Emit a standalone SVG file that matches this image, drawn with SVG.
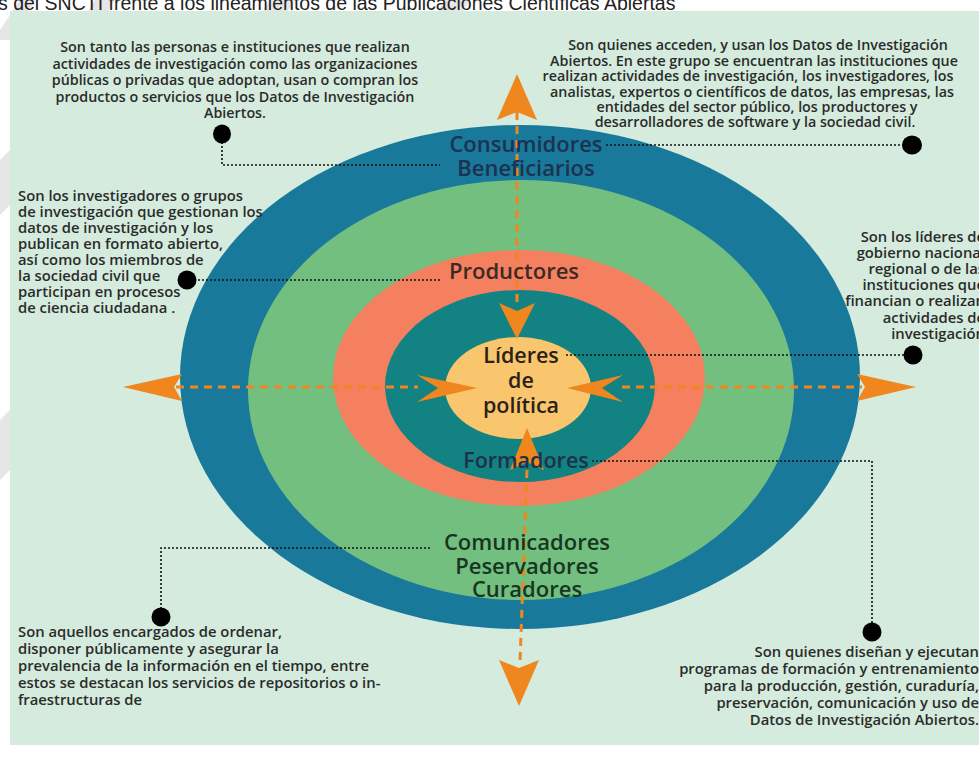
<svg xmlns="http://www.w3.org/2000/svg" width="979" height="771" viewBox="0 0 979 771">
<defs>
<style>
.ann{font-family:"Open Sans","DejaVu Sans",sans-serif;font-weight:600;font-size:14.3px;fill:#2b2b2b}
.annb{font-size:14.8px}
.lbl{font-family:"Open Sans","DejaVu Sans",sans-serif;font-weight:600;text-anchor:middle}
.dot{stroke:#111;stroke-width:1.6;stroke-dasharray:2 2;fill:none}
.dash{stroke:#f0861e;stroke-width:3;stroke-dasharray:8 6;fill:none}
.ah{fill:#f0861e}
.pin{fill:#000}
</style>
</defs>
<rect x="0" y="0" width="979" height="771" fill="#ffffff"/>
<g id="watermark" fill="#e6e6e6">
<polygon points="20,0 35,0 10,40 0,40 0,30"/>
<polygon points="95,0 115,0 108,11 88,11"/>
<polygon points="270,0 295,0 288,11 263,11"/>
<polygon points="445,0 470,0 463,11 438,11"/>
<polygon points="0,160 10,150 10,205 0,215"/>
<polygon points="0,420 10,410 10,470 0,480"/>
</g>
<text x="-2" y="9.5" font-family="Liberation Sans, Arial, sans-serif" font-size="19.5" fill="#222">s del SNCTI frente a los lineamientos de las Publicaciones Científicas Abiertas</text>
<rect id="panel" x="10" y="11" width="969" height="734" fill="#d4ebdd"/>

<g id="rings">
<ellipse id="ring-consumidores" cx="520" cy="377" rx="340" ry="252" fill="#18799b"/>
<ellipse id="ring-comunicadores" cx="521" cy="390" rx="273" ry="210" fill="#72bf80"/>
<ellipse id="ring-productores" cx="519" cy="378" rx="186" ry="128" fill="#f5805f"/>
<ellipse id="ring-formadores" cx="520" cy="386" rx="135" ry="96" fill="#138282"/>
<ellipse id="ring-lideres" cx="518" cy="388" rx="73" ry="51" fill="#f9c56d"/>
</g>

<g id="connectors">
<line class="dash" x1="517" y1="112" x2="517" y2="305"/>
<line class="dash" x1="527" y1="470" x2="520" y2="662"/>
<line class="dash" x1="176" y1="387" x2="418" y2="387"/>
<line class="dash" x1="622" y1="387" x2="862" y2="387"/>
<polygon class="ah" points="517,74 537,120 517,112 497,120"/>
<polygon class="ah" points="519,706 539,660 519,668 499,660"/>
<polygon class="ah" points="123,387 182,374 174,387 182,401"/>
<polygon class="ah" points="916,387 857,374 865,387 857,401"/>
<polygon class="ah" points="517,339 535,303 517,311 499,303"/>
<polygon class="ah" points="527,428 544,470 527,462 510,470"/>
<polygon class="ah" points="477,388 417,375 438,388 417,402"/>
<polygon class="ah" points="567,388 623,375 602,388 623,402"/>
<polyline class="dot" points="222,142 222,165 440,165"/>
<line class="dot" x1="606" y1="145" x2="905" y2="145"/>
<line class="dot" x1="194" y1="280" x2="442" y2="280"/>
<line class="dot" x1="566" y1="355" x2="905" y2="355"/>
<polyline class="dot" points="430,548 161,548 161,609"/>
<polyline class="dot" points="592,461 872,461 872,623"/>
<ellipse class="pin" cx="222" cy="134" rx="9" ry="9.5"/>
<ellipse class="pin" cx="912" cy="145" rx="10" ry="9.5"/>
<ellipse class="pin" cx="187" cy="280" rx="9.5" ry="9.5"/>
<ellipse class="pin" cx="913" cy="355" rx="9.5" ry="9.5"/>
<ellipse class="pin" cx="161" cy="617" rx="9.5" ry="9.5"/>
<ellipse class="pin" cx="872" cy="632" rx="9.5" ry="9.5"/>
</g>

<g id="node-consumidores">
<text class="lbl" x="526" y="152" font-size="22" fill="#1d3150">Consumidores</text>
<text class="lbl" x="526" y="176" font-size="22" fill="#1d3150">Beneficiarios</text>
</g>
<g id="node-productores">
<text class="lbl" x="514" y="279" font-size="22" fill="#3a2a28">Productores</text>
</g>
<g id="node-lideres">
<text class="lbl" x="521" y="363" font-size="21.5" font-weight="700" fill="#2a2218">Líderes</text>
<text class="lbl" x="521" y="388" font-size="21.5" font-weight="700" fill="#2a2218">de</text>
<text class="lbl" x="521" y="413" font-size="21.5" font-weight="700" fill="#2a2218">política</text>
</g>
<g id="node-formadores">
<text class="lbl" x="526" y="468" font-size="21.5" fill="#1d3148">Formadores</text>
</g>
<g id="node-comunicadores">
<text class="lbl" x="527" y="550" font-size="22" fill="#173622">Comunicadores</text>
<text class="lbl" x="527" y="573.5" font-size="22" fill="#173622">Peservadores</text>
<text class="lbl" x="527" y="597" font-size="22" fill="#173622">Curadores</text>
</g>

<g id="note-consumidores-left" class="ann" text-anchor="middle">
<text x="235" y="52">Son tanto las personas e instituciones que realizan</text>
<text x="235" y="68.5">actividades de investigación como las organizaciones</text>
<text x="235" y="85">públicas o privadas que adoptan, usan o compran los</text>
<text x="235" y="101.5">productos o servicios que los Datos de Investigación</text>
<text x="235" y="118">Abiertos.</text>
</g>
<g id="note-consumidores-right" class="ann" text-anchor="middle">
<text x="758" y="50">Son quienes acceden, y usan los Datos de Investigación</text>
<text x="754" y="65.5">Abiertos. En este grupo se encuentran las instituciones que</text>
<text x="748" y="81">realizan actividades de investigación, los investigadores, los</text>
<text x="752" y="96.5">analistas, expertos o científicos de datos, las empresas, las</text>
<text x="757" y="111.5">entidades del sector público, los productores y</text>
<text x="755" y="127">desarrolladores de software y la sociedad civil.</text>
</g>
<g id="note-productores" class="ann annb">
<text x="18" y="201">Son los investigadores o grupos</text>
<text x="18" y="217">de investigación que gestionan los</text>
<text x="18" y="233">datos de investigación y los</text>
<text x="18" y="249">publican en formato abierto,</text>
<text x="18" y="265">así como los miembros de</text>
<text x="18" y="281">la sociedad civil que</text>
<text x="18" y="297">participan en procesos</text>
<text x="18" y="313">de ciencia ciudadana .</text>
</g>
<g id="note-lideres" class="ann annb" text-anchor="end">
<text x="985" y="242">Son los líderes de</text>
<text x="985" y="258">gobierno nacional</text>
<text x="985" y="274">regional o de las</text>
<text x="985" y="290">instituciones que</text>
<text x="985" y="306">financian o realizan</text>
<text x="985" y="323">actividades de</text>
<text x="985" y="339">investigación</text>
</g>
<g id="note-comunicadores" class="ann annb">
<text x="18" y="637">Son aquellos encargados de ordenar,</text>
<text x="18" y="654">disponer públicamente y asegurar la</text>
<text x="18" y="671">prevalencia de la información en el tiempo, entre</text>
<text x="18" y="688">estos se destacan los servicios de repositorios o in-</text>
<text x="18" y="705">fraestructuras de</text>
</g>
<g id="note-formadores" class="ann annb" text-anchor="end">
<text x="979" y="657">Son quienes diseñan y ejecutan</text>
<text x="979" y="674">programas de formación y entrenamiento</text>
<text x="979" y="691">para la producción, gestión, curaduría,</text>
<text x="979" y="708">preservación, comunicación y uso de</text>
<text x="979" y="725">Datos de Investigación Abiertos.</text>
</g>
</svg>
